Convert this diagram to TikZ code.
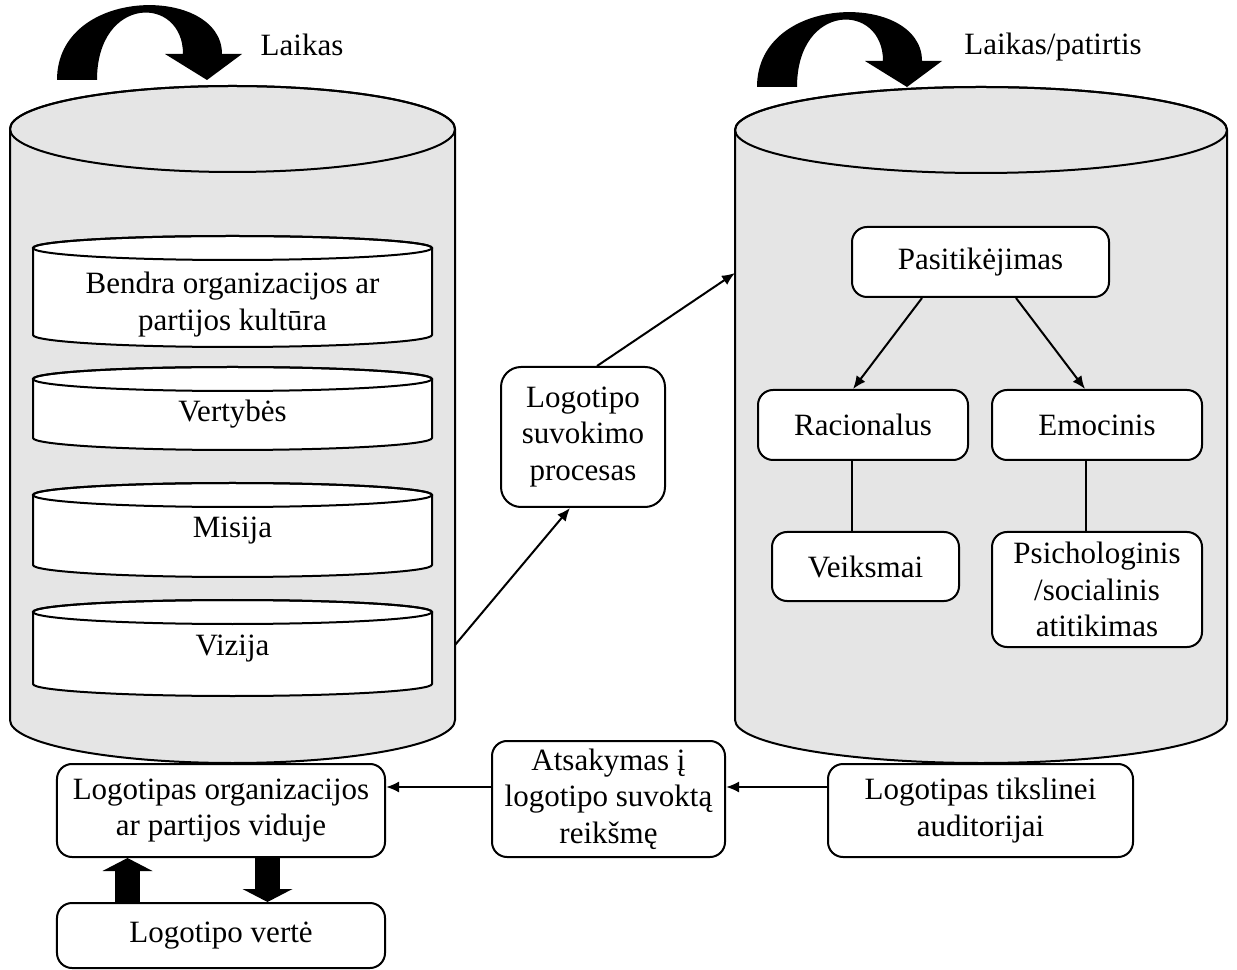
\documentclass[tikz,border=0pt]{standalone}
\usepackage{fontspec}
\setmainfont{Liberation Serif}
\usetikzlibrary{arrows.meta,positioning,calc}
\newcommand{\cylshape}[6]{%
  \filldraw[fill=#6, line width=0.8pt] (#1,#3) -- (#1,#4)
    arc[start angle=180, end angle=0, x radius={(#2-#1)/2}, y radius=#5]
    -- (#2,#3) arc[start angle=0, end angle=-180, x radius={(#2-#1)/2}, y radius=#5] -- cycle;
  \draw[line width=0.8pt] ({(#1+#2)/2},#3) ellipse[x radius={(#2-#1)/2}, y radius=#5];
}
\newcommand{\timearrow}[1]{%
  \fill[shift={#1}] (0,0) .. controls (0,-95) and (165,-95) .. (165,-26) -- (185,-26) -- (150,0)
    -- (108,-26) -- (126,-26) .. controls (126,-85) and (40,-85) .. (40,0) -- cycle;
}

\begin{document}
\begin{tikzpicture}[
    x=0.4pt, y=-0.4pt,
    >={Latex[length=5.2pt,width=4.4pt]},
    font=\fontsize{12.4}{14.6}\selectfont,
    box/.style={draw, line width=0.8pt, fill=white, rounded corners=6pt, align=center, inner sep=0pt},
    layer/.style={align=center},
    link/.style={->, line width=0.8pt},
    blockarrow/.style={line width=10pt, -{Triangle[length=5.2pt,width=20pt,line width=0pt]}}
]
\useasboundingbox (0,0) rectangle (1237,970);

\cylshape{10}{455}{129}{720}{43}{gray!20}
\cylshape{735}{1227}{130}{720}{43}{gray!20}

\cylshape{33}{432}{248}{335}{12}{white}
\cylshape{33}{432}{379}{438}{12}{white}
\cylshape{33}{432}{495}{565}{12}{white}
\cylshape{33}{432}{612}{684}{12}{white}

\node[layer] (culture) at (232.5,304.5) {Bendra organizacijos ar\\partijos kultūra};
\node[layer] (values) at (232.5,414) {Vertybės};
\node[layer] (mission) at (232.5,531) {Misija};
\node[layer] (vision) at (232.5,649) {Vizija};

\timearrow{(57,80)}
\timearrow{(757,87)}
\node (time) at (302,45) {Laikas};
\node (timeexp) at (1053,47) {Laikas/patirtis};

\node[box, minimum width=65.6pt, minimum height=56pt, rounded corners=8pt] (perc) at (583,437) {Logotipo\\suvokimo\\procesas};

\node[box, minimum width=102.8pt, minimum height=28pt] (trust) at (980.5,262) {Pasitikėjimas};
\node[box, minimum width=84pt, minimum height=28pt] (rac) at (863,425) {Racionalus};
\node[box, minimum width=84pt, minimum height=28pt] (emo) at (1097,425) {Emocinis};
\node[box, minimum width=74.8pt, minimum height=27.6pt] (act) at (865.5,566.5) {Veiksmai};
\node[box, minimum width=84pt, minimum height=46pt] (psy) at (1097,589.5) {Psichologinis\\/socialinis\\atitikimas};

\node[box, minimum width=131.2pt, minimum height=37.2pt] (inside) at (221,810.5) {Logotipas organizacijos\\ar partijos viduje};
\node[box, minimum width=131.2pt, minimum height=26pt] (worth) at (221,935.5) {Logotipo vertė};
\node[box, minimum width=93.2pt, minimum height=46.4pt] (resp) at (608.5,799) {Atsakymas į\\logotipo suvoktą\\reikšmę};
\node[box, minimum width=122pt, minimum height=37.2pt] (target) at (980.5,810.5) {Logotipas tikslinei\\auditorijai};

\coordinate (orgout) at (455,645);
\coordinate (audin) at (735,273);

\draw[link] (orgout) -- ([xshift=-5.2pt]perc.south);
\draw[link] ([xshift=5.6pt]perc.north) -- (audin);
\draw[link] ([xshift=-23.4pt]trust.south) -- ([xshift=-4pt]rac.north);
\draw[link] ([xshift=14.2pt]trust.south) -- ([xshift=-4.8pt]emo.north);
\draw[line width=0.8pt] ([xshift=-4.4pt]rac.south) -- ([xshift=-4.4pt]rac.south |- act.north);
\draw[line width=0.8pt] ([xshift=-4.4pt]emo.south) -- ([xshift=-4.4pt]emo.south |- psy.north);
\draw[link] ([yshift=9.4pt]target.west) -- ([yshift=9.4pt]target.west -| resp.east);
\draw[link] ([yshift=4.8pt]resp.west) -- ([yshift=4.8pt]resp.west -| inside.east);
\draw[blockarrow] ([xshift=-37.4pt]worth.north) -- ([xshift=-37.4pt]inside.south);
\draw[blockarrow] ([xshift=18.6pt]inside.south) -- ([xshift=18.6pt]worth.north);
\end{tikzpicture}
\end{document}
